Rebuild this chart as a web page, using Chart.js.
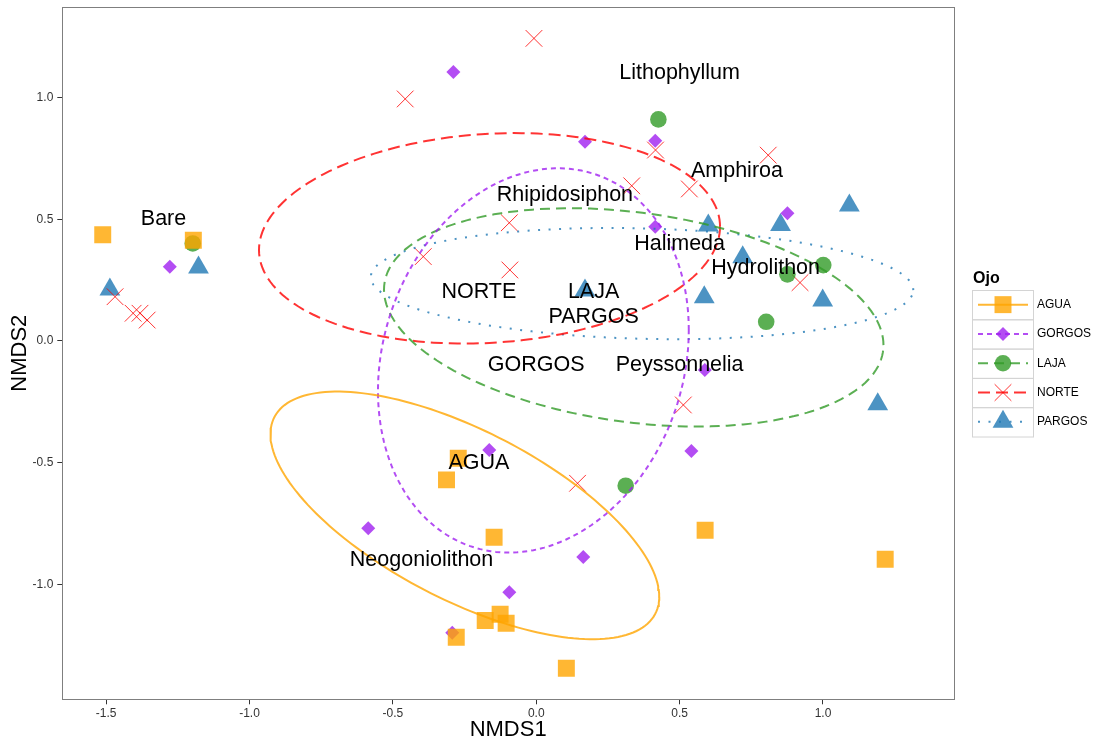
<!DOCTYPE html>
<html lang="en">
<head>
<meta charset="UTF-8">
<title>NMDS - Ojo</title>
<script src="https://cdn.jsdelivr.net/npm/chart.js"></script>
<style>
  body { margin: 0; background: #fff; }
  #wrap { width: 1096px; height: 745px; }
</style>
</head>
<body>
<div id="wrap"><canvas id="nmds" width="1096" height="745"></canvas></div>
<script>
const groups = ["AGUA", "GORGOS", "LAJA", "NORTE", "PARGOS"];

// site scores (NMDS1 / NMDS2) per group
const aguaX = [-1.512, -1.196, -0.272, -0.313, -0.147, -0.126, -0.178, -0.105, -0.279, 0.105, 0.589, 1.217];
const aguaY = [0.437, 0.414, -0.482, -0.571, -0.807, -1.123, -1.149, -1.160, -1.218, -1.345, -0.778, -0.897];

const gorgosX = [-1.278, -0.289, 0.170, 0.415, 0.415, 0.876, 0.588, -0.164, 0.541, -0.586, 0.164, -0.094, -0.293];
const gorgosY = [0.305, 1.106, 0.819, 0.823, 0.470, 0.525, -0.119, -0.448, -0.452, -0.770, -0.888, -1.033, -1.199];

const lajaX = [-1.198, 0.426, 1.001, 0.876, 0.802, 0.312];
const lajaY = [0.401, 0.911, 0.312, 0.274, 0.079, -0.595];

const norteX = [-0.008, -0.457, -0.094, -0.394, -0.092, 0.333, 0.534, 0.416, 0.809, 0.920, 0.513, 0.144, -1.469, -1.406, -1.382, -1.357];
const norteY = [1.244, 0.995, 0.486, 0.347, 0.292, 0.638, 0.625, 0.785, 0.764, 0.240, -0.263, -0.585, 0.182, 0.114, 0.114, 0.086];

const pargosX = [-1.487, -1.178, 0.170, 0.600, 0.720, 0.586, 0.852, 1.092, 0.999, 1.191];
const pargosY = [0.212, 0.302, 0.208, 0.475, 0.344, 0.180, 0.477, 0.557, 0.166, -0.260];

// ellipse per group: centre, offset to the horizontal extreme (ux, uy), vertical conjugate half-chord (vy)
const ellCx = [-0.249, -0.010, 0.340, -0.163, 0.369];
const ellCy = [-0.717, -0.080, 0.097, 0.422, 0.236];
const ellUx = [0.678, 0.542, 0.871, 0.804, 0.946];
const ellUy = [-0.334, 0.125, -0.114, 0.048, -0.027];
const ellVy = [0.384, 0.780, 0.434, 0.430, 0.227];

// text annotations (species and groups)
const labelText = ["Lithophyllum", "Amphiroa", "Rhipidosiphon", "Halimeda", "Hydrolithon", "Bare",
                   "NORTE", "LAJA", "PARGOS", "GORGOS", "Peyssonnelia", "AGUA", "Neogoniolithon"];
const labelX = [0.5, 0.7, 0.1, 0.5, 0.8, -1.3, -0.2, 0.2, 0.2, 0.0, 0.5, -0.2, -0.4];
const labelY = [1.1, 0.7, 0.6, 0.4, 0.3, 0.5, 0.2, 0.2, 0.1, -0.1, -0.1, -0.5, -0.9];

const xTicks = [-1.5, -1.0, -0.5, 0.0, 0.5, 1.0];
const yTicks = [-1.0, -0.5, 0.0, 0.5, 1.0];

const groupX = [aguaX, gorgosX, lajaX, norteX, pargosX];
const groupY = [aguaY, gorgosY, lajaY, norteY, pargosY];

const FONT = "'Liberation Sans', Arial, Helvetica, sans-serif";
const styles = [
    { color: "rgba(255,165,0,0.8)",  shape: "rect",     r: 12,  dash: [] },
    { color: "rgba(160,32,240,0.8)", shape: "rectRot",  r: 7,   dash: [5, 4] },
    { color: "rgba(50,155,40,0.8)",  shape: "circle",   r: 8.3, dash: [10, 6] },
    { color: "rgba(255,0,0,0.8)",    shape: "crossRot", r: 11.8, dash: [12, 6] },
    { color: "rgba(31,120,180,0.8)", shape: "triangle", r: 12,  dash: [2, 8.5] }
];

function ellipsePoints(i) {
    const pts = [];
    const n = 180;
    for (let k = 0; k <= n; k++) {
        const t = 2 * Math.PI * k / n;
        pts.push({
            x: ellCx[i] + ellUx[i] * Math.cos(t),
            y: ellCy[i] + ellUy[i] * Math.cos(t) + ellVy[i] * Math.sin(t)
        });
    }
    return pts;
}

const ellipseSets = groups.map((g, i) => ({
    label: g + " ellipse",
    data: ellipsePoints(i),
    showLine: true,
    pointRadius: 0,
    pointHoverRadius: 0,
    borderColor: styles[i].color,
    borderWidth: 2,
    borderDash: styles[i].dash,
    fill: false,
    tension: 0,
    order: 1
}));

const pointSets = groups.map((g, i) => ({
    label: g,
    data: groupX[i].map((x, k) => ({ x: x, y: groupY[i][k] })),
    showLine: false,
    pointStyle: styles[i].shape,
    pointRadius: styles[i].r,
    pointHoverRadius: styles[i].r,
    backgroundColor: styles[i].color,
    borderColor: styles[i].color,
    borderWidth: styles[i].shape === "crossRot" ? 1 : 0,
    order: 2
}));

// panel border, text labels and legend
const extras = {
    id: "extras",
    afterDatasetsDraw(chart) {
        const ctx = chart.ctx;
        const a = chart.chartArea;
        const sx = chart.scales.x, sy = chart.scales.y;
        ctx.save();
        ctx.fillStyle = "#000";
        ctx.font = "21.5px " + FONT;
        ctx.textAlign = "center";
        ctx.textBaseline = "middle";
        labelText.forEach((t, i) => {
            ctx.fillText(t, sx.getPixelForValue(labelX[i]), sy.getPixelForValue(labelY[i]));
        });
        ctx.strokeStyle = "#7f7f7f";
        ctx.lineWidth = 1;
        ctx.strokeRect(Math.round(a.left) + 0.5, Math.round(a.top) + 0.5,
                       Math.round(a.right - a.left), Math.round(a.bottom - a.top));
        ctx.restore();
    },
    afterDraw(chart) {
        const ctx = chart.ctx;
        const lx = chart.chartArea.right + 18;
        const top = 290, kw = 61, kh = 29.3;
        ctx.save();
        ctx.fillStyle = "#000";
        ctx.font = "bold 16px " + FONT;
        ctx.textAlign = "left";
        ctx.textBaseline = "alphabetic";
        ctx.fillText("Ojo", lx + 1, 283);
        groups.forEach((g, i) => {
            const y0 = top + i * kh;
            const cy = y0 + kh / 2;
            ctx.strokeStyle = "#d4d4d4";
            ctx.lineWidth = 1;
            ctx.strokeRect(lx + 0.5, y0 + 0.5, kw, kh);
            ctx.strokeStyle = styles[i].color;
            ctx.lineWidth = 2;
            ctx.setLineDash(styles[i].dash);
            ctx.beginPath();
            ctx.moveTo(lx + 6, cy);
            ctx.lineTo(lx + kw - 5, cy);
            ctx.stroke();
            ctx.setLineDash([]);
            ctx.fillStyle = styles[i].color;
            ctx.lineWidth = 1;
            Chart.helpers.drawPoint(ctx, {
                pointStyle: styles[i].shape,
                radius: styles[i].r,
                rotation: 0,
                borderWidth: styles[i].shape === "crossRot" ? 1 : 0
            }, lx + kw / 2 + 0.5, cy);
            ctx.fillStyle = "#000";
            ctx.font = "12px " + FONT;
            ctx.textBaseline = "middle";
            ctx.fillText(g, lx + kw + 4, cy);
        });
        ctx.restore();
    }
};

const tickFont = { family: FONT, size: 12 };

new Chart(document.getElementById("nmds"), {
    type: "scatter",
    data: { datasets: pointSets.concat(ellipseSets) },
    options: {
        responsive: false,
        animation: false,
        devicePixelRatio: 1,
        layout: { autoPadding: false, padding: { top: 0, right: 142, left: 0, bottom: 0 } },
        plugins: { legend: { display: false }, tooltip: { enabled: false } },
        scales: {
            x: {
                type: "linear",
                min: -1.653,
                max: 1.457,
                afterFit: s => { s.height = 45.7; s.paddingLeft = 0; s.paddingRight = 0; },
                afterBuildTicks: s => { s.ticks = xTicks.map(v => ({ value: v })); },
                grid: { drawOnChartArea: false, tickLength: 5, color: "#333", tickColor: "#333" },
                border: { display: false },
                ticks: { callback: v => v.toFixed(1), font: tickFont, color: "#333", padding: 2, maxRotation: 0, autoSkip: false },
                title: { display: true, text: "NMDS1", color: "#000", font: { family: FONT, size: 22 }, padding: { top: 0, bottom: 2 } }
            },
            y: {
                type: "linear",
                min: -1.473,
                max: 1.373,
                afterFit: s => { s.width = 62.3; s.paddingTop = 7; s.paddingBottom = 0; },
                afterBuildTicks: s => { s.ticks = yTicks.map(v => ({ value: v })); },
                grid: { drawOnChartArea: false, tickLength: 5, color: "#333", tickColor: "#333" },
                border: { display: false },
                ticks: { callback: v => v.toFixed(1), font: tickFont, color: "#333", padding: 4, autoSkip: false },
                title: { display: true, text: "NMDS2", color: "#000", font: { family: FONT, size: 22 }, padding: { top: 7, bottom: 0 } }
            }
        }
    },
    plugins: [extras]
});
</script>
</body>
</html>
